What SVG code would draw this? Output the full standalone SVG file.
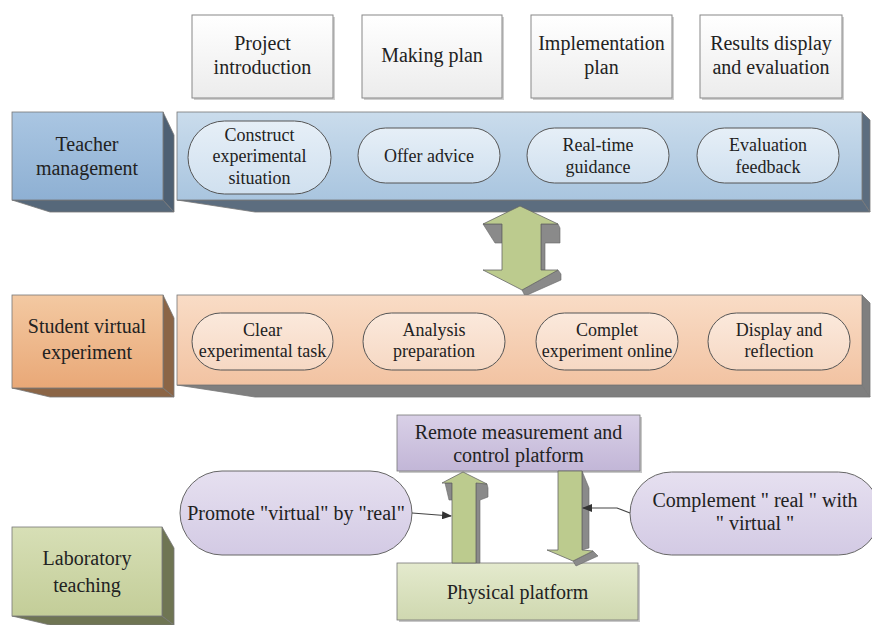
<svg xmlns="http://www.w3.org/2000/svg" width="872" height="625" viewBox="0 0 872 625" font-family="'Liberation Serif', 'DejaVu Serif', serif">
<defs>
<linearGradient id="gWhite" x1="0" y1="0" x2="0" y2="1"><stop offset="0" stop-color="#ffffff"/><stop offset="1" stop-color="#ececec"/></linearGradient>
<linearGradient id="gBlueBox" x1="0" y1="0" x2="0" y2="1"><stop offset="0" stop-color="#aac6e2"/><stop offset="1" stop-color="#8eb0d3"/></linearGradient>
<linearGradient id="gBluePanel" x1="0" y1="0" x2="0" y2="1"><stop offset="0" stop-color="#cadcec"/><stop offset="1" stop-color="#a9c5df"/></linearGradient>
<linearGradient id="gBluePill" x1="0" y1="0" x2="0" y2="1"><stop offset="0" stop-color="#e6eff7"/><stop offset="1" stop-color="#d0e0ef"/></linearGradient>
<linearGradient id="gOrgBox" x1="0" y1="0" x2="0" y2="1"><stop offset="0" stop-color="#f3c9a2"/><stop offset="1" stop-color="#e9a877"/></linearGradient>
<linearGradient id="gOrgPanel" x1="0" y1="0" x2="0" y2="1"><stop offset="0" stop-color="#f9dcc6"/><stop offset="1" stop-color="#f2c3a2"/></linearGradient>
<linearGradient id="gOrgPill" x1="0" y1="0" x2="0" y2="1"><stop offset="0" stop-color="#fbe9dc"/><stop offset="1" stop-color="#f6d8c3"/></linearGradient>
<linearGradient id="gGreenBox" x1="0" y1="0" x2="0" y2="1"><stop offset="0" stop-color="#d7dfb6"/><stop offset="1" stop-color="#c3cd98"/></linearGradient>
<linearGradient id="gPhys" x1="0" y1="0" x2="0" y2="1"><stop offset="0" stop-color="#e4eacd"/><stop offset="1" stop-color="#cfd8b0"/></linearGradient>
<linearGradient id="gPurple" x1="0" y1="0" x2="0" y2="1"><stop offset="0" stop-color="#d9d0e7"/><stop offset="1" stop-color="#c2b6d7"/></linearGradient>
<linearGradient id="gPurplePill" x1="0" y1="0" x2="0" y2="1"><stop offset="0" stop-color="#e6e0f0"/><stop offset="1" stop-color="#d3cae4"/></linearGradient>
<marker id="arr" markerWidth="10" markerHeight="8" refX="9" refY="4" orient="auto" markerUnits="userSpaceOnUse"><path d="M0,0 L10,4 L0,8 Z" fill="#333"/></marker>
</defs>
<style>
text{font-family:'Liberation Serif','DejaVu Serif',serif;font-size:18px;fill:#222;text-anchor:middle}
text.big{font-size:20px}
.top{fill:url(#gWhite);stroke:#888;stroke-width:1}
.shadow{fill:#cfcfcf}
.pillB{fill:url(#gBluePill);stroke:#555;stroke-width:1}
.pillO{fill:url(#gOrgPill);stroke:#555;stroke-width:1}
.pillP{fill:url(#gPurplePill);stroke:#666;stroke-width:1}
.edge{stroke:#777;stroke-width:0.8}
.green{fill:#bccb8e;stroke:#666;stroke-width:0.8}
.gray{fill:#8a8a8a;stroke:#666;stroke-width:0.6}
.conn{fill:none;stroke:#444;stroke-width:1.2}
</style>

<g id="top-project">
<rect class="shadow" x="194" y="17" width="141" height="83"/>
<rect class="top" x="192" y="15" width="141" height="83"/>
<text class="big" x="262.5" y="50">Project</text><text class="big" x="262.5" y="74">introduction</text>
</g>
<g id="top-making">
<rect class="shadow" x="364" y="17" width="140" height="83"/>
<rect class="top" x="362" y="15" width="140" height="83"/>
<text class="big" x="432" y="62">Making plan</text>
</g>
<g id="top-implementation">
<rect class="shadow" x="533" y="17" width="141" height="83"/>
<rect class="top" x="531" y="15" width="141" height="83"/>
<text class="big" x="601.5" y="50">Implementation</text><text class="big" x="601.5" y="74">plan</text>
</g>
<g id="top-results">
<rect class="shadow" x="702" y="17" width="142" height="83"/>
<rect class="top" x="700" y="15" width="142" height="83"/>
<text class="big" x="771" y="50">Results display</text><text class="big" x="771" y="74">and evaluation</text>
</g>

<g id="teacher-management">
<polygon points="12,200 163,200 174,212 50,212" fill="#56687a" class="edge"/>
<polygon points="163,112 174,135 174,212 163,200" fill="#4e6073" class="edge"/>
<rect x="12" y="112" width="151" height="88" fill="url(#gBlueBox)" class="edge"/>
<text class="big" x="87" y="151">Teacher</text><text class="big" x="87" y="175">management</text>
</g>

<g id="teacher-panel">
<polygon points="177,200 862,200 870,212 255,212" fill="#5c6d7f" class="edge"/>
<polygon points="862,112 870,120 870,212 862,200" fill="#5c6d7f" class="edge"/>
<rect x="177" y="112" width="685" height="88" fill="url(#gBluePanel)" class="edge"/>
</g>
<g id="construct">
<rect class="pillB" x="188" y="121" width="143" height="73" rx="36.5"/>
<text x="259.5" y="141">Construct</text><text x="259.5" y="162">experimental</text><text x="259.5" y="184">situation</text>
</g>
<g id="offer-advice">
<rect class="pillB" x="358" y="128" width="142" height="55" rx="27.5"/>
<text x="429" y="162">Offer advice</text>
</g>
<g id="real-time">
<rect class="pillB" x="527" y="128" width="142" height="55" rx="27.5"/>
<text x="598" y="151">Real-time</text><text x="598" y="173">guidance</text>
</g>
<g id="evaluation-feedback">
<rect class="pillB" x="697" y="128" width="142" height="55" rx="27.5"/>
<text x="768" y="151">Evaluation</text><text x="768" y="173">feedback</text>
</g>

<g id="double-arrow">
<polygon class="gray" points="483,224 502,224 502,243 495,243"/>
<polygon class="gray" points="541,224 558,224 560,228 560,243 545,243 545,270 541,270"/>
<polygon class="gray" points="558,270 561,274 561,280 525,296 522,290"/>
<polygon class="green" points="520,206 558,224 541,224 541,270 558,270 522,290 483,270 502,270 502,224 483,224"/>
</g>

<g id="student-virtual">
<polygon points="12,388 163,388 174,397 50,397" fill="#8b6546" class="edge"/>
<polygon points="163,295 174,318 174,397 163,388" fill="#8b6546" class="edge"/>
<rect x="12" y="295" width="151" height="93" fill="url(#gOrgBox)" class="edge"/>
<text class="big" x="87" y="333">Student virtual</text><text class="big" x="87" y="359">experiment</text>
</g>

<g id="student-panel">
<polygon points="177,385 862,385 870,397 255,397" fill="#7f7f7f" class="edge"/>
<polygon points="862,295 870,303 870,397 862,385" fill="#7f7f7f" class="edge"/>
<rect x="177" y="295" width="685" height="90" fill="url(#gOrgPanel)" class="edge"/>
</g>
<g id="clear-task">
<rect class="pillO" x="192" y="313" width="141" height="57" rx="28.5"/>
<text x="262.5" y="336">Clear</text><text x="262.5" y="357">experimental task</text>
</g>
<g id="analysis">
<rect class="pillO" x="363" y="313" width="142" height="57" rx="28.5"/>
<text x="434" y="336">Analysis</text><text x="434" y="357">preparation</text>
</g>
<g id="complet">
<rect class="pillO" x="536" y="313" width="142" height="57" rx="28.5"/>
<text x="607" y="336">Complet</text><text x="607" y="357">experiment online</text>
</g>
<g id="display-reflection">
<rect class="pillO" x="708" y="313" width="142" height="57" rx="28.5"/>
<text x="779" y="336">Display and</text><text x="779" y="357">reflection</text>
</g>

<g id="remote-platform">
<rect x="399" y="417" width="243" height="56" fill="#c8c8c8"/>
<rect x="397" y="415" width="243" height="56" fill="url(#gPurple)" stroke="#777" stroke-width="0.8"/>
<text class="big" x="518.5" y="439">Remote measurement and</text><text class="big" x="518.5" y="462">control platform</text>
</g>

<g id="physical-platform">
<rect x="399" y="565" width="241" height="57" fill="#c8c8c8"/>
<rect x="397" y="563" width="241" height="57" fill="url(#gPhys)" stroke="#777" stroke-width="0.8"/>
<text class="big" x="517.5" y="599">Physical platform</text>
</g>

<g id="up-arrow">
<polygon class="gray" points="445,483 452,483 452,500 449,500"/>
<polygon class="gray" points="476,483 487,484 488,488 488,497 480,500 480,563 476,563"/>
<polygon class="green" points="452,563 476,563 476,483 487,484 463,472 442,483 452,483"/>
</g>
<g id="down-arrow">
<polygon class="gray" points="582,471 589,488 589,548 582,550"/>
<polygon class="gray" points="593,551 598,556 576,566 573,561"/>
<polygon class="green" points="558,471 582,471 582,550 593,551 573,561 547,550 558,550"/>
</g>

<g id="promote">
<rect class="pillP" x="180" y="471" width="232" height="84" rx="42"/>
<text class="big" x="296" y="520">Promote "virtual" by "real"</text>
</g>
<g id="complement">
<rect class="pillP" x="630" y="472" width="250" height="83" rx="41.5"/>
<text class="big" x="755" y="507">Complement " real " with</text><text class="big" x="755" y="530">" virtual "</text>
</g>

<g id="laboratory-teaching">
<polygon points="12,616 162,616 174,625 50,625" fill="#6f7553" class="edge"/>
<polygon points="162,527 174,548 174,625 162,616" fill="#6f7553" class="edge"/>
<rect x="12" y="527" width="150" height="89" fill="url(#gGreenBox)" class="edge"/>
<text class="big" x="87" y="565">Laboratory</text><text class="big" x="87" y="592">teaching</text>
</g>

<g id="connectors">
<path class="conn" d="M412,513 L451,516" marker-end="url(#arr)"/>
<path class="conn" d="M630,513 L617,508 L583,508" marker-end="url(#arr)"/>
</g>
</svg>
